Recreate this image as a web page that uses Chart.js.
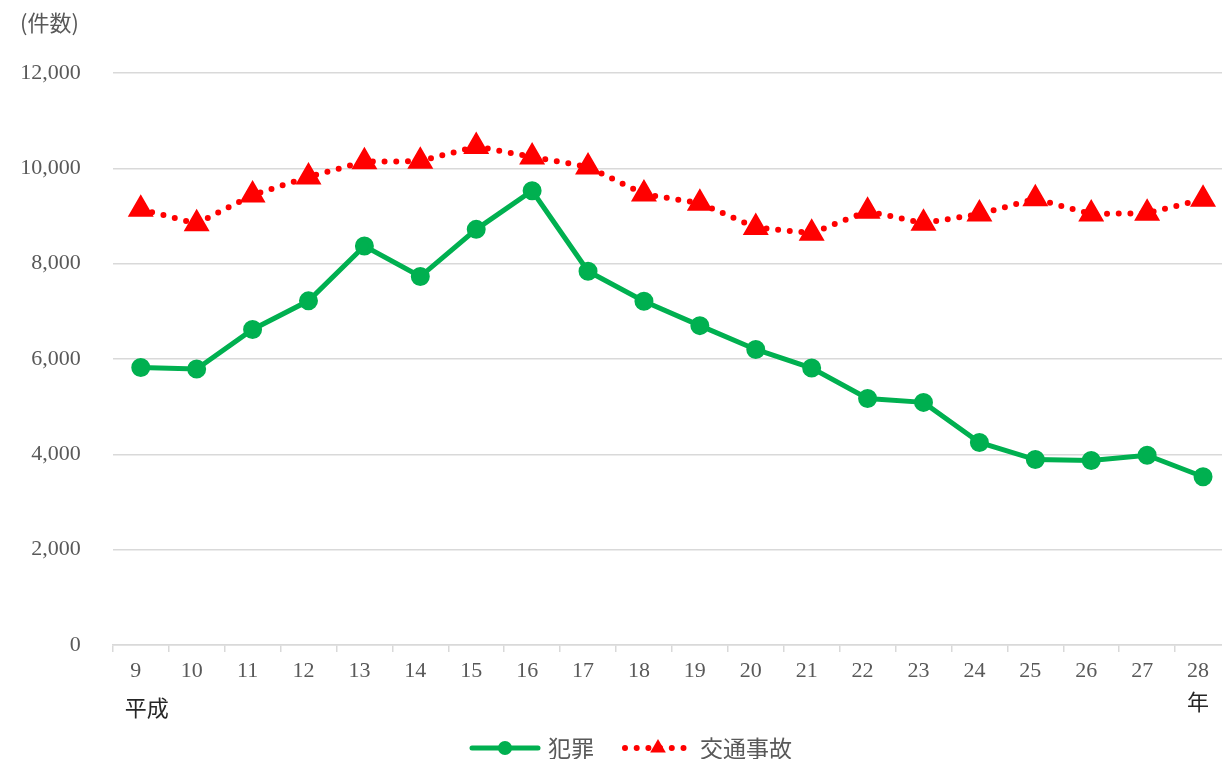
<!DOCTYPE html>
<html>
<head>
<meta charset="utf-8">
<script src="https://cdn.jsdelivr.net/npm/chart.js@4/dist/chart.umd.min.js"></script>
<style>
  html, body { margin: 0; padding: 0; background: #fff; overflow: hidden; }
  #wrap { width: 1246px; height: 759px; position: relative; }
</style>
</head>
<body>
<div id="wrap"><canvas id="crimeChart"></canvas></div>
<script>
// 平成9年〜28年
const years = ['9','10','11','12','13','14','15','16','17','18','19','20','21','22','23','24','25','26','27','28'];
const crime = [5820, 5790, 6620, 7220, 8370, 7730, 8720, 9530, 7840, 7210, 6700, 6200, 5810, 5170, 5090, 4250, 3890, 3870, 3980, 3530];
const traffic = [9140, 8840, 9440, 9820, 10140, 10150, 10460, 10240, 10030, 9460, 9270, 8760, 8640, 9100, 8850, 9040, 9360, 9040, 9060, 9350];
const seriesNames = ['犯罪', '交通事故'];
const yTicks = [0, 2000, 4000, 6000, 8000, 10000, 12000];

const GREEN = '#00b050';
const RED = '#ff0000';
const GRID = '#d9d9d9';
const TXT = '#595959';
const SERIF = "'Liberation Serif', 'Noto Sans CJK JP', serif";
const CJK = "'Noto Sans CJK JP', sans-serif";

// extra texts + legend with line and marker samples
const extrasPlugin = {
    id: 'extras',
    afterDraw(chart) {
        const ctx = chart.ctx;
        const xs = chart.scales.x;
        ctx.save();
        ctx.fillStyle = TXT;
        ctx.font = "22px " + CJK;
        ctx.textBaseline = 'middle';
        ctx.textAlign = 'left';
        ctx.fillText('(件数)', 20, 23);

        ctx.fillStyle = '#262626';
        ctx.font = "22px " + CJK;
        ctx.textAlign = 'center';
        ctx.fillText('平成', xs.getPixelForValue(0) + 6, 708);
        ctx.fillText('年', xs.getPixelForValue(years.length - 1) - 5, 702);

        // legend
        const ly = 748;
        const ds = chart.data.datasets;
        // crime sample
        ctx.strokeStyle = ds[0].borderColor;
        ctx.lineWidth = ds[0].borderWidth;
        ctx.lineCap = 'round';
        ctx.beginPath(); ctx.moveTo(472, ly); ctx.lineTo(538, ly); ctx.stroke();
        ctx.fillStyle = ds[0].pointBackgroundColor;
        ctx.beginPath(); ctx.arc(505, ly, ds[0].pointRadius, 0, Math.PI * 2); ctx.fill();
        ctx.fillStyle = TXT;
        ctx.font = "23px " + CJK;
        ctx.textAlign = 'left';
        ctx.fillText(ds[0].label, 548, ly);
        // traffic sample
        ctx.strokeStyle = ds[1].borderColor;
        ctx.lineWidth = ds[1].borderWidth;
        ctx.setLineDash(ds[1].borderDash);
        ctx.beginPath(); ctx.moveTo(625, ly); ctx.lineTo(690, ly); ctx.stroke();
        ctx.setLineDash([]);
        ctx.fillStyle = ds[1].pointBackgroundColor;
        const r = ds[1].pointRadius;
        ctx.beginPath();
        ctx.moveTo(658, ly - r);
        ctx.lineTo(658 + r * 0.87, ly + r * 0.5);
        ctx.lineTo(658 - r * 0.87, ly + r * 0.5);
        ctx.closePath(); ctx.fill();
        ctx.fillStyle = TXT;
        ctx.fillText(ds[1].label, 700, ly);
        ctx.restore();
    }
};

new Chart(document.getElementById('crimeChart'), {
    type: 'line',
    data: {
        labels: years,
        datasets: [
            {
                label: seriesNames[0], data: crime,
                borderColor: GREEN, backgroundColor: GREEN,
                pointBackgroundColor: GREEN, pointBorderColor: GREEN,
                borderWidth: 5, pointRadius: 7, pointStyle: 'circle',
                tension: 0, order: 2
            },
            {
                label: seriesNames[1], data: traffic,
                borderColor: RED, backgroundColor: RED,
                pointBackgroundColor: RED, pointBorderColor: RED,
                borderWidth: 6, borderDash: [0, 11.7], borderCapStyle: 'round',
                pointRadius: 9, pointStyle: 'triangle',
                tension: 0, order: 1
            }
        ]
    },
    options: {
        responsive: true,
        maintainAspectRatio: false,
        animation: false,
        layout: { padding: { top: 73, right: 9.6, left: 0, bottom: 0 } },
        plugins: { legend: { display: false }, tooltip: { enabled: false } },
        scales: {
            x: {
                offset: true,
                grid: { drawOnChartArea: false, drawTicks: true, tickLength: 7, color: GRID, lineWidth: 1.5, offset: true },
                border: { display: true, color: GRID, width: 1.5 },
                ticks: { color: TXT, font: { family: SERIF, size: 22 }, padding: 6, labelOffset: -5, maxRotation: 0, autoSkip: false },
                afterFit: s => { s.height = 114; }
            },
            y: {
                min: 0, max: 12000,
                afterBuildTicks: s => { s.ticks = yTicks.map(v => ({ value: v })); },
                grid: { color: GRID, lineWidth: 1.5, drawTicks: false },
                border: { display: false },
                ticks: {
                    color: TXT, font: { family: SERIF, size: 22 }, padding: 32,
                    callback: v => v.toLocaleString('en-US')
                },
                afterFit: s => { s.width = 112.8; }
            }
        }
    },
    plugins: [extrasPlugin]
});
</script>
</body>
</html>
